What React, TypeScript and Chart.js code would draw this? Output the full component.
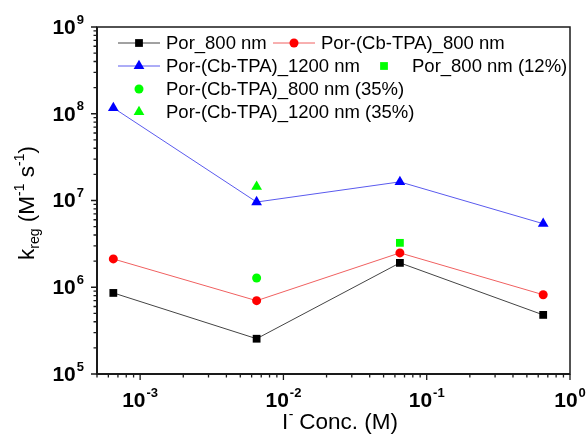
import React, { useEffect, useRef } from 'react';
import { Chart, registerables } from 'chart.js';

Chart.register(...registerables);

// ---- data ----
const concentrations = [6.5e-4, 6.5e-3, 6.5e-2, 0.65];
const por800 = [8.6e5, 2.55e5, 1.91e6, 4.8e5];
const cbtpa800 = [2.12e6, 7.0e5, 2.49e6, 8.2e5];
const cbtpa1200 = [1.17e8, 9.6e6, 1.64e7, 5.4e6];
const por800_12 = [null, null, 3.25e6, null];
const cbtpa800_35 = [null, 1.28e6, null, null];
const cbtpa1200_35 = [null, 1.44e7, null, null];
const seriesLabels = [
  'Por_800 nm',
  'Por-(Cb-TPA)_800 nm',
  'Por-(Cb-TPA)_1200 nm',
  'Por_800 nm (12%)',
  'Por-(Cb-TPA)_800 nm (35%)',
  'Por-(Cb-TPA)_1200 nm (35%)',
];
const xTickExponents = [-3, -2, -1, 0];
const yTickExponents = [5, 6, 7, 8, 9];
const xTitle = ['I', '-', ' Conc. (M)'];
const yTitle = ['k', 'reg', ' (M', '-1', ' s', '-1', ')'];

const FONT = '"Liberation Sans", Arial, sans-serif';

const toPoints = (vals: (number | null)[]) =>
  concentrations
    .map((x, i) => ({ x, y: vals[i] }))
    .filter((p) => p.y !== null) as { x: number; y: number }[];

// legend layout (styles only)
const legendLayout = [
  { lx: 139, ly: 43, tx: 166, line: true, color: '#000000', lineColor: '#444444', style: 'rect', r: 5.5 },
  { lx: 294, ly: 43, tx: 321, line: true, color: '#ff0000', lineColor: '#f06060', style: 'circle', r: 4.5 },
  { lx: 139, ly: 66, tx: 166, line: true, color: '#0000ff', lineColor: '#5a5aee', style: 'triangle', r: 6.2 },
  { lx: 384, ly: 66, tx: 412, line: false, color: '#00ff00', lineColor: '', style: 'rect', r: 5.5 },
  { lx: 139, ly: 89, tx: 166, line: false, color: '#00ff00', lineColor: '', style: 'circle', r: 4.5 },
  { lx: 139, ly: 112, tx: 166, line: false, color: '#00ff00', lineColor: '', style: 'triangle', r: 6.2 },
];

function drawPow(ctx: CanvasRenderingContext2D, exp: number, cx: number, cy: number, align: 'center' | 'right') {
  const baseFont = `bold 21px ${FONT}`;
  const supFont = `bold 13px ${FONT}`;
  const expStr = String(exp);
  ctx.font = baseFont;
  const wb = ctx.measureText('10').width;
  ctx.font = supFont;
  const ws = ctx.measureText(expStr).width;
  const total = wb + ws + 1;
  const start = align === 'center' ? cx - total / 2 : cx - total;
  ctx.textAlign = 'left';
  ctx.textBaseline = 'middle';
  ctx.font = baseFont;
  ctx.fillText('10', start, cy);
  ctx.font = supFont;
  ctx.fillText(expStr, start + wb + 1, cy - 8);
}

function drawMarker(ctx: CanvasRenderingContext2D, style: string, r: number, x: number, y: number) {
  ctx.beginPath();
  if (style === 'rect') {
    const s = Math.SQRT1_2 * r;
    ctx.rect(x - s, y - s, 2 * s, 2 * s);
  } else if (style === 'circle') {
    ctx.arc(x, y, r, 0, Math.PI * 2);
  } else {
    const h = r;
    ctx.moveTo(x, y - h);
    ctx.lineTo(x + Math.sin((2 * Math.PI) / 3) * h, y + h / 2);
    ctx.lineTo(x - Math.sin((2 * Math.PI) / 3) * h, y + h / 2);
    ctx.closePath();
  }
  ctx.fill();
}

const framePlugin = {
  id: 'framePlugin',
  afterDraw(chart: any) {
    const { ctx, chartArea } = chart;
    const { left, right, top, bottom } = chartArea;
    const xs = chart.scales.x;
    const ys = chart.scales.y;
    ctx.save();
    ctx.strokeStyle = '#1a1a1a';
    // frame
    ctx.lineWidth = 1.5;
    ctx.strokeRect(left, top, right - left, bottom - top);
    ctx.lineWidth = 2;
    ctx.beginPath();
    ctx.moveTo(left, top);
    ctx.lineTo(left, bottom);
    ctx.lineTo(right, bottom);
    ctx.stroke();

    // x ticks
    ctx.lineWidth = 1.3;
    ctx.beginPath();
    for (let e = -4; e <= 0; e++) {
      for (let m = 1; m <= 9; m++) {
        const v = m * Math.pow(10, e);
        if (v < xs.min * 0.999 || v > xs.max * 1.001) continue;
        const px = xs.getPixelForValue(v);
        const len = m === 1 ? 6 : 3.5;
        ctx.moveTo(px, bottom);
        ctx.lineTo(px, bottom + len);
      }
    }
    // y ticks
    for (let e = 5; e <= 9; e++) {
      for (let m = 1; m <= 9; m++) {
        const v = m * Math.pow(10, e);
        if (v < ys.min * 0.999 || v > ys.max * 1.001) continue;
        const py = ys.getPixelForValue(v);
        const len = m === 1 ? 6 : 3.5;
        ctx.moveTo(left, py);
        ctx.lineTo(left - len, py);
      }
    }
    ctx.stroke();

    // tick labels
    ctx.fillStyle = '#000';
    xTickExponents.forEach((e) => {
      drawPow(ctx, e, xs.getPixelForValue(Math.pow(10, e)), bottom + 27, 'center');
    });
    yTickExponents.forEach((e) => {
      drawPow(ctx, e, left - 13, ys.getPixelForValue(Math.pow(10, e)) + 1, 'right');
    });

    // x title
    const tFont = `22.5px ${FONT}`;
    const sFont = `14px ${FONT}`;
    ctx.textBaseline = 'middle';
    ctx.textAlign = 'left';
    ctx.font = tFont;
    const w0 = ctx.measureText(xTitle[0]).width;
    const w2 = ctx.measureText(xTitle[2]).width;
    ctx.font = sFont;
    const w1 = ctx.measureText(xTitle[1]).width;
    const xt = 282;
    const yt = 423;
    ctx.font = tFont;
    ctx.fillText(xTitle[0], xt, yt);
    ctx.font = sFont;
    ctx.fillText(xTitle[1], xt + w0 + 0.5, yt - 8);
    ctx.font = tFont;
    ctx.fillText(xTitle[2], xt + w0 + w1, yt);

    // y title (rotated)
    const parts = yTitle.map((t, i) => ({
      t,
      font: i === 0 || i === 2 || i === 4 || i === 6 ? tFont : sFont,
      dy: i === 1 ? 7 : i === 3 || i === 5 ? -8 : 0,
    }));
    let totalW = 0;
    parts.forEach((p) => {
      ctx.font = p.font;
      totalW += ctx.measureText(p.t).width;
    });
    ctx.translate(28, 203);
    ctx.rotate(-Math.PI / 2);
    let cx = -totalW / 2;
    parts.forEach((p) => {
      ctx.font = p.font;
      ctx.fillText(p.t, cx, p.dy);
      cx += ctx.measureText(p.t).width;
    });
    ctx.restore();

    // legend
    ctx.save();
    legendLayout.forEach((item, i) => {
      if (item.line) {
        ctx.strokeStyle = item.lineColor;
        ctx.lineWidth = 1;
        ctx.beginPath();
        ctx.moveTo(item.lx - 21, item.ly);
        ctx.lineTo(item.lx + 21, item.ly);
        ctx.stroke();
      }
      ctx.fillStyle = item.color;
      drawMarker(ctx, item.style, item.r, item.lx, item.ly);
      ctx.fillStyle = '#000';
      ctx.font = `18.5px ${FONT}`;
      ctx.textAlign = 'left';
      ctx.textBaseline = 'middle';
      ctx.fillText(seriesLabels[i], item.tx, item.ly + 1);
    });
    ctx.restore();
  },
};

export default function App() {
  const ref = useRef<HTMLCanvasElement>(null);
  useEffect(() => {
    document.body.style.margin = '0';
    const canvas = ref.current!;
    const mk = (
      label: string,
      vals: (number | null)[],
      color: string,
      lineColor: string,
      style: string,
      r: number,
      line: boolean
    ) => ({
      label,
      data: toPoints(vals),
      showLine: line,
      borderColor: lineColor,
      borderWidth: 1,
      backgroundColor: color,
      pointBackgroundColor: color,
      pointBorderColor: color,
      pointBorderWidth: 0,
      pointStyle: style,
      pointRadius: r,
      tension: 0,
    });
    const chart = new Chart(canvas, {
      type: 'scatter',
      data: {
        datasets: [
          mk(seriesLabels[0], por800, '#000000', '#444444', 'rect', 5.5, true),
          mk(seriesLabels[1], cbtpa800, '#ff0000', '#f06060', 'circle', 4.5, true),
          mk(seriesLabels[2], cbtpa1200, '#0000ff', '#5a5aee', 'triangle', 6.2, true),
          mk(seriesLabels[3], por800_12, '#00ff00', '#00ff00', 'rect', 5.5, false),
          mk(seriesLabels[4], cbtpa800_35, '#00ff00', '#00ff00', 'circle', 4.5, false),
          mk(seriesLabels[5], cbtpa1200_35, '#00ff00', '#00ff00', 'triangle', 6.2, false),
        ],
      },
      options: {
        animation: false,
        responsive: false,
        maintainAspectRatio: false,
        layout: { padding: { left: 97, right: 18, top: 27, bottom: 62 } },
        plugins: { legend: { display: false }, tooltip: { enabled: false } },
        scales: {
          x: { type: 'logarithmic', min: 5e-4, max: 1, display: false },
          y: { type: 'logarithmic', min: 1e5, max: 1e9, display: false },
        },
      },
      plugins: [framePlugin],
    } as any);
    return () => chart.destroy();
  }, []);
  return <canvas ref={ref} width={588} height={436} style={{ display: 'block', width: 588, height: 436 }} />;
}
